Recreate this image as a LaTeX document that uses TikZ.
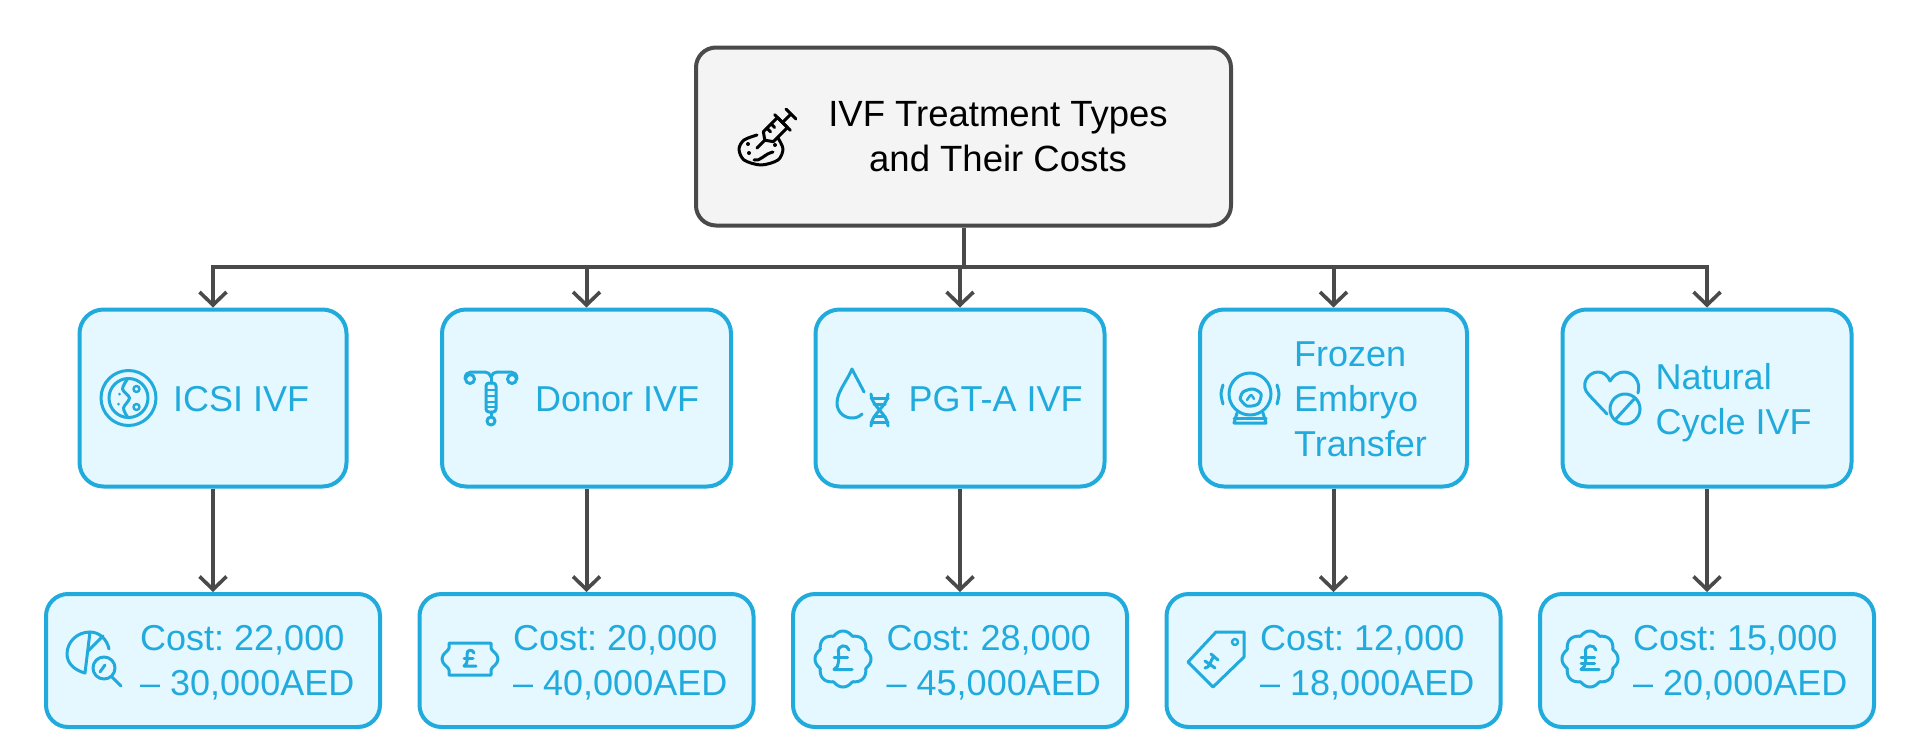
\documentclass[tikz,border=0pt]{standalone}
\usepackage{fontspec}
\setmainfont{Liberation Sans}
\usetikzlibrary{arrows.meta}
\definecolor{edgegrey}{HTML}{4A4A4A}
\definecolor{rootfill}{HTML}{F4F4F4}
\definecolor{leafblue}{HTML}{21ABDC}
\definecolor{leaffill}{HTML}{E5F7FF}
\tikzset{
	rootbox/.style={draw=edgegrey, fill=rootfill, line width=4pt, rounded corners=20pt, minimum width=535pt, minimum height=178pt},
	typebox/.style={draw=leafblue, fill=leaffill, line width=4pt, rounded corners=24pt, minimum height=177pt},
	costbox/.style={draw=leafblue, fill=leaffill, line width=4pt, rounded corners=22pt, minimum width=334pt, minimum height=133pt},
	boxtext/.style={anchor=west, align=left, inner sep=0pt, text=leafblue, font=\fontsize{36}{45}\selectfont},
	flow/.style={draw=edgegrey, line width=4pt, -{Straight Barb[length=13pt,width=27pt,line width=3.6pt]}},
	iconline/.style={draw=leafblue, line width=3pt, line cap=round, line join=round},
	blackline/.style={draw=black, line width=3pt, line cap=round, line join=round}
}
\newcommand{\poundmark}[3]% center, scale, extra bar
{\begin{scope}[shift={(#1)},x=#2pt,y=-#2pt]
	\draw[iconline] (4,-6) .. controls (3,-10) and (-4,-10) .. (-3,-4) -- (-3,2) .. controls (-3,4) and (-4,6) .. (-6,7) -- (6,7);
	\draw[iconline] (-6,-1) -- (3,-1);
	#3
\end{scope}}
\newcommand{\scallop}[1]% center
{\draw[iconline, shift={(#1)}] plot[domain=0:360, samples=121] ({(24.5+3.5*abs(cos(4*\x)))*cos(\x)},{(24.5+3.5*abs(cos(4*\x)))*sin(\x)});}
\frenchspacing
\begin{document}
\begin{tikzpicture}[x=1pt,y=-1pt]
	\useasboundingbox (0,0) rectangle (1920,755);
	\node[rootbox] (root) at (963.5,136.5){};
	\node[typebox, minimum width=267pt] (icsi) at (213,398){};
	\node[typebox, minimum width=289pt] (donor) at (586.5,398){};
	\node[typebox, minimum width=289pt] (pgt) at (960,398){};
	\node[typebox, minimum width=267pt] (frozen) at (1333.5,398){};
	\node[typebox, minimum width=289pt] (natural) at (1707,398){};
	\node[costbox] (icsicost) at (213,660.5){};
	\node[costbox] (donorcost) at (586.5,660.5){};
	\node[costbox] (pgtcost) at (960,660.5){};
	\node[costbox] (frozencost) at (1333.5,660.5){};
	\node[costbox] (naturalcost) at (1707,660.5){};
	% labels
	\node[align=center, inner sep=0pt, text=black, font=\fontsize{36.5}{45}\selectfont] (roottext) at (998,137){IVF Treatment Types\\and Their Costs};
	\node[boxtext] (icsitext) at (173,399){ICSI IVF};
	\node[boxtext] (donortext) at (535,399){Donor IVF};
	\node[boxtext] (pgttext) at (908.5,399){PGT-A IVF};
	\node[boxtext] (frozentext) at (1294,399){Frozen\\Embryo\\Transfer};
	\node[boxtext] (naturaltext) at (1655.5,402.5){Natural\\Cycle IVF};
	\node[boxtext] (icsicosttext) at (140,663){Cost: 22,000\\– 30,000AED};
	\node[boxtext] (donorcosttext) at (513,663){Cost: 20,000\\– 40,000AED};
	\node[boxtext] (pgtcosttext) at (886.5,663){Cost: 28,000\\– 45,000AED};
	\node[boxtext] (frozencosttext) at (1260,663){Cost: 12,000\\– 18,000AED};
	\node[boxtext] (naturalcosttext) at (1633,663){Cost: 15,000\\– 20,000AED};
	% connectors
	\draw[flow] (root.south) -- ++(0,39.5) -| (icsi.north);
	\draw[flow] (root.south) -- ++(0,39.5) -| (donor.north);
	\draw[flow] (root.south) -- ++(0,39.5) -| (pgt.north);
	\draw[flow] (root.south) -- ++(0,39.5) -| (frozen.north);
	\draw[flow] (root.south) -- ++(0,39.5) -| (natural.north);
	\draw[flow] (icsi) -- (icsicost);
	\draw[flow] (donor) -- (donorcost);
	\draw[flow] (pgt) -- (pgtcost);
	\draw[flow] (frozen) -- (frozencost);
	\draw[flow] (natural) -- (naturalcost);
	% syringe over dish
	\begin{scope}[shift={(768,135)}]
		\draw[blackline] plot[smooth] coordinates {(-11,0) (-24,5) (-29,14) (-24,25) (-7,30) (10,25) (15,14) (10,3)};
		\draw[blackline] (-14,25) .. controls (-8,27) and (-4,19) .. (5,17);
		\fill (-20,9) circle (2);
		\fill (-19,18) circle (2);
		\fill (7,10) circle (2);
		\begin{scope}[shift={(-11,13)},rotate=45]
			\draw[blackline] (0,0) -- (11,0) -- (16,-7) -- (36,-7) -- (36,7) -- (16,7) -- (11,0);
			\draw[blackline] (36,-11) -- (36,11);
			\draw[blackline] (36,0) -- (48,0);
			\draw[blackline] (48,-7) -- (48,7);
			\draw[blackline] (21,-7) -- (21,-2);
			\draw[blackline] (27,-7) -- (27,-2);
		\end{scope}
	\end{scope}
	% dish
	\begin{scope}[shift={(128.5,398)}]
		\draw[iconline] (0,0) circle (27.5);
		\draw[iconline] (0,0) circle (19.5);
		\draw[iconline] plot[smooth] coordinates {(-1,-19) (-6,-9) (1,0) (-5,10) (-1,19)};
		\draw[iconline, line width=2.4pt] (8,-9) circle (3);
		\draw[iconline, line width=2.4pt] (8,9) circle (3);
		\fill[leafblue] (-9,-4) circle (1.5);
		\fill[leafblue] (-10,6) circle (1.5);
	\end{scope}
	% coil
	\begin{scope}[shift={(491,398)}]
		\draw[iconline] (-26,-19) .. controls (-26,-24) and (-23,-26) .. (-20,-26) -- (-6,-26) .. controls (-3,-26) and (-1,-24) .. (0,-21) .. controls (1,-24) and (3,-26) .. (6,-26) -- (20,-26) .. controls (23,-26) and (26,-24) .. (26,-19);
		\draw[iconline] (-21,-19) circle (4.5);
		\draw[iconline] (21,-19) circle (4.5);
		\draw[iconline] (0,-21) -- (0,-15);
		\draw[iconline, rounded corners=3pt] (-5,-15) rectangle (5,14);
		\draw[iconline, line width=2.4pt] (-5,-8) -- (5,-8);
		\draw[iconline, line width=2.4pt] (-5,-2) -- (5,-2);
		\draw[iconline, line width=2.4pt] (-5,4) -- (5,4);
		\draw[iconline, line width=2.4pt] (-5,9) -- (5,9);
		\draw[iconline] (0,14) -- (0,19);
		\draw[iconline] (0,23) circle (4);
	\end{scope}
	% drop and strand
	\begin{scope}[shift={(863,398)}]
		\draw[iconline] (1,-6) .. controls (-3,-14) and (-7,-21) .. (-11,-29) .. controls (-16,-17) and (-26,-6) .. (-26,5) .. controls (-26,14) and (-19,20) .. (-11,20) .. controls (-7,20) and (-4,19) .. (-1,16);
		\draw[iconline] (8,-4) .. controls (8,8) and (25,16) .. (25,28);
		\draw[iconline] (25,-4) .. controls (25,8) and (8,16) .. (8,28);
		\draw[iconline] (8,0) -- (25,0);
		\draw[iconline] (11,6) -- (22,6);
		\draw[iconline] (11,18) -- (22,18);
		\draw[iconline] (8,24) -- (25,24);
	\end{scope}
	% incubator
	\begin{scope}[shift={(1250,397)}]
		\draw[iconline] (0,-3) circle (21);
		\draw[iconline] (-13,16) -- (-16,26) -- (16,26) -- (13,16);
		\draw[iconline] (-16,21) -- (16,21);
		\draw[iconline] plot[smooth] coordinates {(-27,-12) (-29,-3) (-27,7)};
		\draw[iconline] plot[smooth] coordinates {(27,-12) (29,-3) (27,7)};
		\draw[iconline] plot[smooth] coordinates {(-10,2) (-7,-5) (3,-8) (11,-3) (8,7) (-3,9) (-10,2)};
		\draw[iconline, line width=2.4pt] plot[smooth] coordinates {(-3,3) (1,-2) (4,2)};
	\end{scope}
	% heart with bar
	\begin{scope}[shift={(1610,398)}]
		\draw[iconline] (-3,16) -- (-21,-3) .. controls (-31,-13) and (-22,-26) .. (-12,-26) .. controls (-6,-26) and (-2,-22) .. (0,-17) .. controls (3,-22) and (8,-26) .. (14,-26) .. controls (24,-26) and (31,-16) .. (28,-5);
		\draw[iconline] (15,11) circle (15);
		\draw[iconline] (5,22) -- (25,0);
	\end{scope}
	% pie with lens
	\begin{scope}[shift={(95,660)}]
		\draw[iconline] (-5,-28) .. controls (-18,-28) and (-28,-18) .. (-28,-6) .. controls (-28,3) and (-21,10) .. (-10,13) -- cycle;
		\draw[iconline] (-5,-28) .. controls (4,-28) and (12,-21) .. (14,-11);
		\draw[iconline] (-7,-9) -- (8,-24);
		\draw[iconline] (9,8) circle (11);
		\draw[iconline] (17,17) -- (26,26);
		\draw[iconline] (5,12) -- (10,5);
	\end{scope}
	% ticket
	\begin{scope}[shift={(470,659)}]
		\draw[iconline] (-21,-16) -- (21,-16) -- (21,-11) .. controls (21,-8) and (28,-6) .. (28,0) .. controls (28,6) and (21,8) .. (21,11) -- (21,16) -- (-21,16) -- (-21,11) .. controls (-21,8) and (-28,6) .. (-28,0) .. controls (-28,-6) and (-21,-8) .. (-21,-11) -- cycle;
	\end{scope}
	\poundmark{470,659}{1}{}
	% flower with pound
	\scallop{843,659}
	\poundmark{843,659}{1.5}{}
	% tag
	\begin{scope}[shift={(1216,659)}]
		\draw[iconline] (0,-27) -- (28,-27) -- (28,-2) -- (-3,28) -- (-28,3) -- cycle;
		\draw[iconline, line width=2.4pt] (19,-17) circle (3);
		\draw[iconline] (-11,9) .. controls (-6,9) and (-6,2) .. (-2,-3);
		\draw[iconline] (-11,2) -- (-1,9);
		\draw[iconline] (-5,-5) -- (2,1);
	\end{scope}
	% flower with two bars
	\scallop{1590,659}
	\poundmark{1590,659}{1.5}{\draw[iconline] (-6,3) -- (3,3);}
\end{tikzpicture}
\end{document}
